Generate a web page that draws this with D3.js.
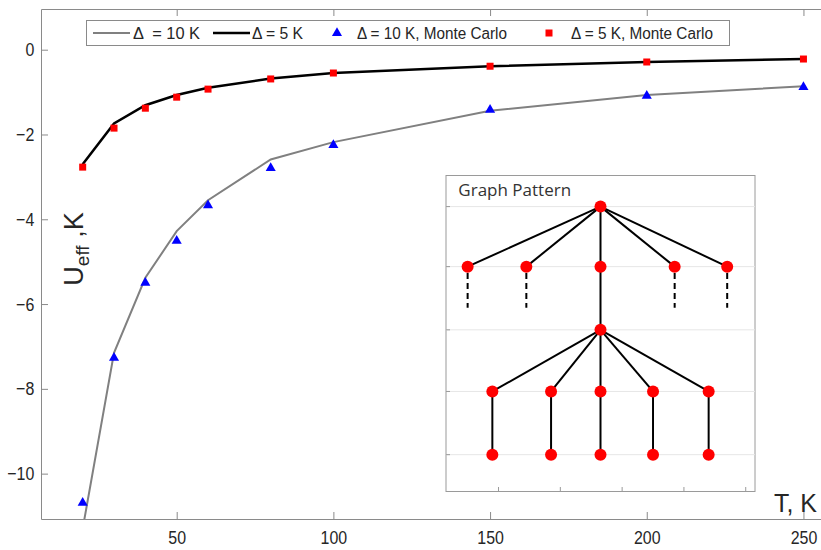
<!DOCTYPE html>
<html>
<head>
<meta charset="utf-8">
<script src="https://cdn.jsdelivr.net/npm/d3@7"></script>
<style>
body { margin: 0; background: #fff; }
text { font-family: "Liberation Sans", Arial, sans-serif; }
</style>
</head>
<body>
<div id="chart"></div>
<script>
// temperatures where the curves were computed
let temps = [20, 30, 40, 50, 60, 80, 100, 150, 200, 250]
let line10 = [-11.3, -7.15, -5.38, -4.28, -3.55, -2.59, -2.18, -1.44, -1.07, -0.86]
let line5 = [-2.7, -1.74, -1.31, -1.07, -0.9, -0.68, -0.55, -0.39, -0.29, -0.22]
let mc10 = [-10.69, -7.27, -5.5, -4.51, -3.67, -2.79, -2.25, -1.42, -1.09, -0.88]
let mc5 = [-2.77, -1.85, -1.38, -1.12, -0.93, -0.69, -0.55, -0.39, -0.29, -0.22]
let xTicks = [50, 100, 150, 200, 250]
let yTicks = [0, -2, -4, -6, -8, -10]
let legendLabels = ["\u0394  = 10 K", "\u0394 = 5 K", "\u0394 = 10 K, Monte Carlo", "\u0394 = 5 K, Monte Carlo"]

// inset tree (units 0..100 inside the inset box)
let levelY = [10, 29, 49, 68.5, 88.5]
let rootX = 50
let sideX = [7, 26, 50, 74, 91]
let leafX = [15, 34, 50, 67, 85]
let insetXTicks = [17, 37, 57, 77, 97]

let W = 821, H = 550
let svg = d3.select("#chart").append("svg")
    .attr("width", W)
    .attr("height", H)

let pLeft = 41, pRight = 821, pTop = 9, pBottom = 519
let x = d3.scaleLinear().domain([6.7, 255.6]).range([pLeft, pRight])
let y = d3.scaleLinear().domain([-11.07, 0.96]).range([pBottom, pTop])

let frame = "#8a8a8a"
let labelColor = "#262626"

svg.append("defs").append("clipPath").attr("id", "plotclip")
    .append("rect").attr("x", pLeft).attr("y", pTop).attr("width", pRight - pLeft).attr("height", pBottom - pTop)

// axes with inward ticks
let xAxis = svg.append("g").attr("transform", "translate(0," + pBottom + ")")
    .call(d3.axisBottom(x).tickValues(xTicks).tickSizeInner(-7).tickSizeOuter(0).tickPadding(12))
let xAxisTop = svg.append("g").attr("transform", "translate(0," + pTop + ")")
    .call(d3.axisTop(x).tickValues(xTicks).tickSizeInner(-7).tickSizeOuter(0).tickFormat(""))
let yAxis = svg.append("g").attr("transform", "translate(" + pLeft + ",0)")
    .call(d3.axisLeft(y).tickValues(yTicks).tickSizeInner(-7).tickSizeOuter(0).tickPadding(8))
;[xAxis, xAxisTop, yAxis].forEach(a => {
    a.selectAll("path, line").attr("stroke", frame)
    a.selectAll("text").attr("fill", labelColor).style("font-size", "19px")
        .attr("transform", "scale(0.84,1)")
})

let plot = svg.append("g").attr("clip-path", "url(#plotclip)")

let lineGen = d3.line().x(d => x(d[0])).y(d => y(d[1]))
plot.append("path")
    .attr("d", lineGen(temps.map((t, i) => [t, line10[i]])))
    .style("fill", "none").style("stroke", "#808080").style("stroke-width", 2)
plot.append("path")
    .attr("d", lineGen(temps.map((t, i) => [t, line5[i]])))
    .style("fill", "none").style("stroke", "#000").style("stroke-width", 2.5)

let tri = d3.symbol().type(d3.symbolTriangle).size(44)
plot.selectAll("path.mc10").data(temps).enter().append("path")
    .attr("class", "mc10")
    .attr("d", tri)
    .attr("transform", (t, i) => "translate(" + x(t) + "," + y(mc10[i]) + ")")
    .style("fill", "#0000ff")
plot.selectAll("rect.mc5").data(temps).enter().append("rect")
    .attr("class", "mc5")
    .attr("x", t => x(t) - 3.5)
    .attr("y", (t, i) => y(mc5[i]) - 3.5)
    .attr("width", 7).attr("height", 7)
    .style("fill", "#ff0000")

// axis titles
let yl = svg.append("text")
    .attr("transform", "translate(83,249) rotate(-90)")
    .attr("text-anchor", "middle")
    .attr("fill", labelColor)
    .style("font-size", "27px")
yl.append("tspan").text("U")
yl.append("tspan").attr("dy", 6).style("font-size", "19px").text("eff")
yl.append("tspan").attr("dy", -6).text(" ,K")

svg.append("text")
    .attr("x", 817).attr("y", 512)
    .attr("text-anchor", "end")
    .attr("fill", labelColor)
    .style("font-size", "25px")
    .text("T, K")

// legend
let lg = svg.append("g")
lg.append("rect").attr("x", 86.5).attr("y", 20.5).attr("width", 643).attr("height", 25)
    .style("fill", "#fff").style("stroke", frame)
let ly = 33
lg.append("line").attr("x1", 93).attr("x2", 130).attr("y1", ly).attr("y2", ly).style("stroke", "#808080").style("stroke-width", 2)
lg.append("line").attr("x1", 213).attr("x2", 250).attr("y1", ly).attr("y2", ly).style("stroke", "#000").style("stroke-width", 2.5)
lg.append("path").attr("d", tri).attr("transform", "translate(337," + ly + ")").style("fill", "#0000ff")
lg.append("rect").attr("x", 545.5).attr("y", ly - 3.5).attr("width", 7).attr("height", 7).style("fill", "#ff0000")
let legendX = [133, 252, 357, 571]
let legendW = [67, 51, 150, 142]
lg.selectAll("text.leg").data(legendLabels).enter().append("text")
    .attr("class", "leg")
    .attr("x", (d, i) => legendX[i])
    .attr("y", ly + 6)
    .attr("textLength", (d, i) => legendW[i])
    .attr("lengthAdjust", "spacingAndGlyphs")
    .attr("fill", labelColor)
    .style("font-size", "16px")
    .style("white-space", "pre")
    .text(d => d)

// inset
let ix = d3.scaleLinear().domain([0, 100]).range([446, 755])
let iy = d3.scaleLinear().domain([0, 100]).range([175, 491])
let inset = svg.append("g")
inset.append("rect").attr("x", 446).attr("y", 175.5).attr("width", 309).attr("height", 316)
    .style("fill", "#fff").style("stroke", "#9a9a9a")
inset.selectAll("line.grid").data(levelY).enter().append("line")
    .attr("x1", ix(0)).attr("x2", ix(100))
    .attr("y1", d => iy(d)).attr("y2", d => iy(d))
    .style("stroke", "#e6e6e6")
inset.selectAll("line.ytick").data(levelY).enter().append("line")
    .attr("x1", ix(0)).attr("x2", ix(0) + 4)
    .attr("y1", d => iy(d)).attr("y2", d => iy(d))
    .style("stroke", "#9a9a9a")
inset.selectAll("line.xtick").data(insetXTicks).enter().append("line")
    .attr("x1", d => ix(d)).attr("x2", d => ix(d))
    .attr("y1", iy(100)).attr("y2", iy(100) - 4)
    .style("stroke", "#9a9a9a")
inset.append("text")
    .attr("x", ix(4)).attr("y", iy(6.5))
    .attr("fill", "#333")
    .style("font-family", "Open Sans, sans-serif")
    .style("font-size", "17px")
    .text("Graph Pattern")

let edges = []
sideX.forEach(sx => edges.push([rootX, levelY[0], sx, levelY[1]]))
edges.push([rootX, levelY[1], rootX, levelY[2]])
leafX.forEach(lx => {
    edges.push([rootX, levelY[2], lx, levelY[3]])
    edges.push([lx, levelY[3], lx, levelY[4]])
})
inset.selectAll("line.edge").data(edges).enter().append("line")
    .attr("x1", d => ix(d[0])).attr("y1", d => iy(d[1]))
    .attr("x2", d => ix(d[2])).attr("y2", d => iy(d[3]))
    .style("stroke", "#000").style("stroke-width", 2)
inset.selectAll("line.dash").data(sideX.filter(d => d != rootX)).enter().append("line")
    .attr("x1", d => ix(d)).attr("x2", d => ix(d))
    .attr("y1", iy(31)).attr("y2", iy(42))
    .style("stroke", "#000").style("stroke-width", 2).style("stroke-dasharray", "6,4")

let nodes = [[rootX, levelY[0]], [rootX, levelY[2]]]
sideX.forEach(sx => nodes.push([sx, levelY[1]]))
leafX.forEach(lx => { nodes.push([lx, levelY[3]]); nodes.push([lx, levelY[4]]) })
inset.selectAll("circle.node").data(nodes).enter().append("circle")
    .attr("cx", d => ix(d[0])).attr("cy", d => iy(d[1]))
    .attr("r", 6)
    .style("fill", "#ff0000")
</script>
</body>
</html>
